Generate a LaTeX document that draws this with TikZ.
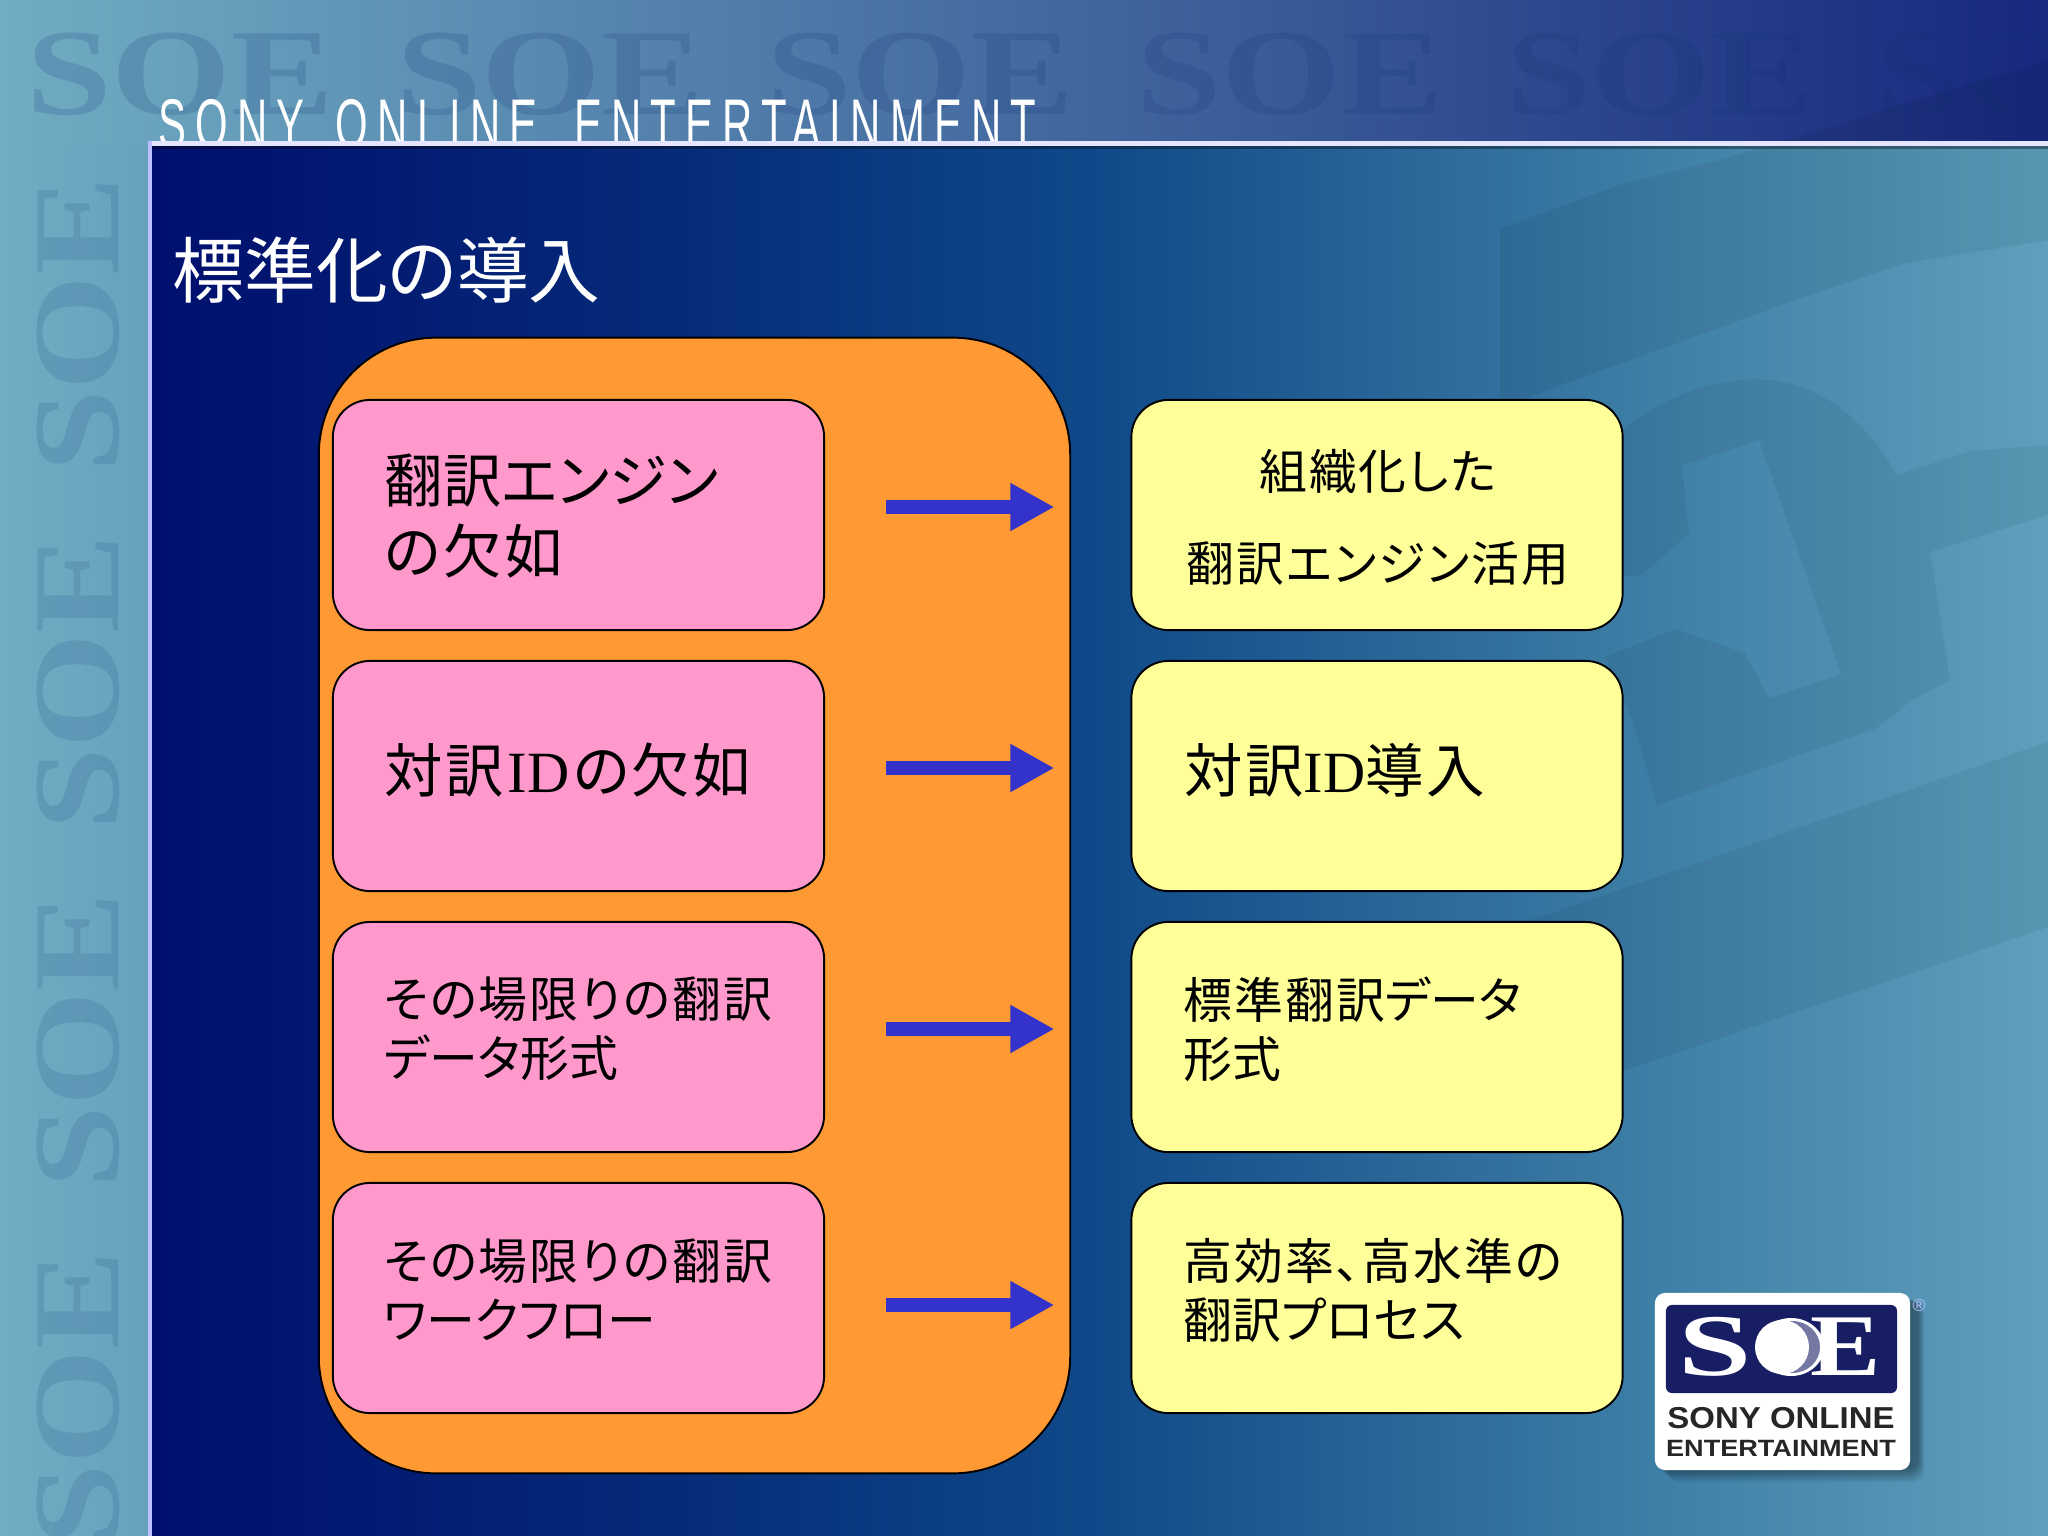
\documentclass[tikz,border=0pt]{standalone}
\usepackage{fontspec}
\setmainfont{Liberation Serif}
\newfontfamily\jpfont[RawFeature=+palt]{Noto Sans CJK JP}
\newfontfamily\idfont{Liberation Serif}
\newfontfamily\headfont[LetterSpace=22]{Liberation Sans}
\newfontfamily\logofont{Liberation Sans}
\newcommand\wide[1]{{\addfontfeature{LetterSpace=4}#1}}
\usetikzlibrary{arrows.meta,positioning}
\definecolor{navy}{RGB}{0,15,110}
\definecolor{panelb}{RGB}{5,42,120}
\definecolor{panelc}{RGB}{15,72,136}
\definecolor{paneld}{RGB}{60,125,165}
\definecolor{panele}{RGB}{95,160,188}
\definecolor{bandleft}{RGB}{112,172,194}
\definecolor{bandmid}{RGB}{46,106,160}
\definecolor{bandright}{RGB}{24,40,126}
\definecolor{stripright}{RGB}{102,162,189}
\definecolor{markcol}{RGB}{15,50,115}
\definecolor{outerfill}{RGB}{255,153,51}
\definecolor{pinkfill}{RGB}{255,153,204}
\definecolor{yellowfill}{RGB}{255,255,153}
\definecolor{arrowcol}{RGB}{51,51,204}
\definecolor{logonavy}{RGB}{24,30,100}
\pgfdeclarehorizontalshading{panelshade}{100bp}{color(0bp)=(navy); color(25bp)=(navy);
	color(38.2bp)=(panelb); color(49.6bp)=(panelc); color(64bp)=(paneld);
	color(75bp)=(panele); color(100bp)=(panele)}
\tikzset{
	pinkbox/.style={draw=black,line width=0.55pt,fill=pinkfill,rounded corners=0.37cm,
		minimum width=4.91cm,minimum height=2.30cm,inner sep=0pt},
	yellowbox/.style={pinkbox,fill=yellowfill},
	bigtext/.style={font=\jpfont\fontsize{16.6}{20.2}\selectfont,align=left,anchor=west,inner sep=0pt},
	smalltext/.style={font=\jpfont\fontsize{13.9}{16.8}\selectfont,align=left,anchor=west,inner sep=0pt},
	flow/.style={-{Triangle[length=0.44cm,width=0.45cm]},arrowcol,line width=0.14cm,
		shorten <=0.61cm,shorten >=0.76cm},
	soemark/.style={font=\bfseries\fontsize{35}{35}\selectfont,text=markcol,text opacity=0.17,inner sep=0pt},
	bodyshade/.style={black,opacity=0.06},
}
\begin{document}
\begin{tikzpicture}[x=0.01cm,y=-0.01cm]
	\useasboundingbox (0,0) rectangle (2048,1536);
	\begin{scope}
	\clip (0,0) rectangle (2048,1536);
	% backdrop
	\shade[left color=bandleft,right color=stripright] (0,146) rectangle (152,1536);
	\shade[left color=bandleft,middle color=bandmid,right color=bandright] (0,0) rectangle (2048,146);
	\foreach \i in {0,...,5}
		\node[soemark] (top\i) at (180+370*\i,74) {\scalebox{1.25}[1]{SOE}};
	\foreach \i in {0,...,3}
		\node[soemark,text opacity=0.13,rotate=90] (side\i) at (78,325+358*\i) {\scalebox{1.2}[1]{SOE}};
	\node[text=white,inner sep=0pt,anchor=base west] (head) at (158,148)
		{\scalebox{0.595}[1]{\headfont\fontsize{20}{20}\selectfont SONY\hspace{0.17cm} ONLINE\hspace{0.26cm} ENTERTAINMENT}};
	% panel
	\shade[shading=panelshade] (151,146) rectangle (2048,1536);
	\fill[bodyshade] (1500,229) -- (1619,185) -- (1720,160) -- (2048,60) -- (2048,240) -- (1902,264) -- (1815,293) -- (1545,391) -- (1500,410) -- cycle;
	\fill[bodyshade] (1600,440) -- (1622,430) .. controls (1700,370) and (1820,340) .. (1897,475) -- (1970,451) -- (2048,445)
		-- (2048,515) -- (2003,529) -- (1930,552) -- (1950,680) -- (1912,700) -- (1877,728) -- (1657,805) -- (1633,721)
		-- (1605,657) -- (1675,629) -- (1745,653) -- (1769,698) -- (1841,674) -- (1759,440) -- (1682,465) -- (1689,534) -- (1640,576) -- (1600,576) -- cycle;
	\fill[bodyshade] (1500,930) -- (1552,913) -- (2048,742) -- (2048,927) -- (1626,1070) -- (1500,1110) -- cycle;
	\fill[black,opacity=0.35] (152,146) rectangle (2048,149);
	\fill[white!90!blue] (148,141) rectangle (2048,146);
	\fill[white!75!blue] (148,141) rectangle (152,1536);
	\end{scope}
	% title
	\node[text=white,font=\jpfont\fontsize{20.4}{24}\selectfont,anchor=west,inner sep=0pt] (title) at (172,270) {標準化の導入};
	% orange block
	\node[draw=black,line width=0.55pt,fill=outerfill,rounded corners=1.17cm,minimum width=7.51cm,minimum height=11.35cm,inner sep=0pt] (block) at (694.5,905.5) {};
	% boxes
	\node[pinkbox] (pink1) at (578.5,515) {};
	\node[pinkbox] (pink2) at (578.5,776) {};
	\node[pinkbox] (pink3) at (578.5,1037) {};
	\node[pinkbox] (pink4) at (578.5,1298) {};
	\node[yellowbox] (yellow1) at (1377,515) {};
	\node[yellowbox] (yellow2) at (1377,776) {};
	\node[yellowbox] (yellow3) at (1377,1037) {};
	\node[yellowbox] (yellow4) at (1377,1298) {};
	% box texts
	\node[bigtext] (ptext1) at (384,516) {翻訳エンジン\\\wide{の欠如}};
	\node[bigtext] (ptext2) at (384,770) {\wide{対訳}\hspace{0.04cm}{\idfont ID}\hspace{0.04cm}\wide{の欠如}};
	\node[smalltext] (ptext3) at (383,1029) {\wide{その場限りの翻訳}\\データ形式};
	\node[smalltext] (ptext4) at (383,1290) {\wide{その場限りの翻訳}\\ワークフロー};
	\node[font=\jpfont\fontsize{13.6}{26.2}\selectfont,align=center,inner sep=0pt] (ytext1) at (1378,517) {\wide{組織化した}\\\wide{翻訳エンジン活用}};
	\node[bigtext] (ytext2) at (1184,770) {\wide{対訳}{\idfont ID}\wide{導入}};
	\node[smalltext] (ytext3) at (1183,1029) {\wide{標準翻訳}データ\\形式};
	\node[smalltext] (ytext4) at (1183,1290) {\wide{高効率、高水準の}\\翻訳プロセス};
	% arrows
	\draw[flow] ([yshift=0.08cm]pink1.east) -- ([yshift=0.08cm]yellow1.west);
	\draw[flow] ([yshift=0.08cm]pink2.east) -- ([yshift=0.08cm]yellow2.west);
	\draw[flow] ([yshift=0.08cm]pink3.east) -- ([yshift=0.08cm]yellow3.west);
	\draw[flow] ([yshift=-0.07cm]pink4.east) -- ([yshift=-0.07cm]yellow4.west);
	% logo
	\foreach \s in {0,2,...,12}
		\fill[black,opacity=0.06,rounded corners=0.12cm] (1655+\s,1300) rectangle (1918+\s/2,1470+\s);
	\node[draw=none,fill=white,rounded corners=0.1cm,minimum width=2.55cm,minimum height=1.77cm,inner sep=0pt] (logo) at (1782.5,1381.5) {};
	\node[fill=logonavy,rounded corners=0.06cm,minimum width=2.31cm,minimum height=0.88cm,inner sep=0pt] (logobar) at (1781.5,1349) {};
	\fill[white] (1791,1347) ellipse (33 and 29);
	\fill[logonavy!60!white] (1792,1347) ellipse (28 and 26);
	\fill[white] (1782,1347) ellipse (27 and 27);
	\node[text=white,font=\bfseries\fontsize{25}{25}\selectfont,inner sep=0pt] (logos) at (1715,1347) {\scalebox{1.5}[1]{S}};
	\node[text=white,font=\bfseries\fontsize{25}{25}\selectfont,inner sep=0pt] (logoe) at (1846,1347) {\scalebox{1.2}[1]{E}};
	\node[text=black!85,font=\logofont\bfseries\fontsize{8.6}{9}\selectfont,inner sep=0pt] (logoa) at (1781,1418) {\scalebox{1.09}[1]{SONY ONLINE}};
	\node[text=black!85,font=\logofont\bfseries\fontsize{6.7}{7}\selectfont,inner sep=0pt] (logob) at (1781,1448) {\scalebox{1.15}[1]{ENTERTAINMENT}};
	\node[text=white!75!blue,font=\logofont\fontsize{5}{5}\selectfont,inner sep=0pt] (logor) at (1919,1305) {®};
\end{tikzpicture}
\end{document}
